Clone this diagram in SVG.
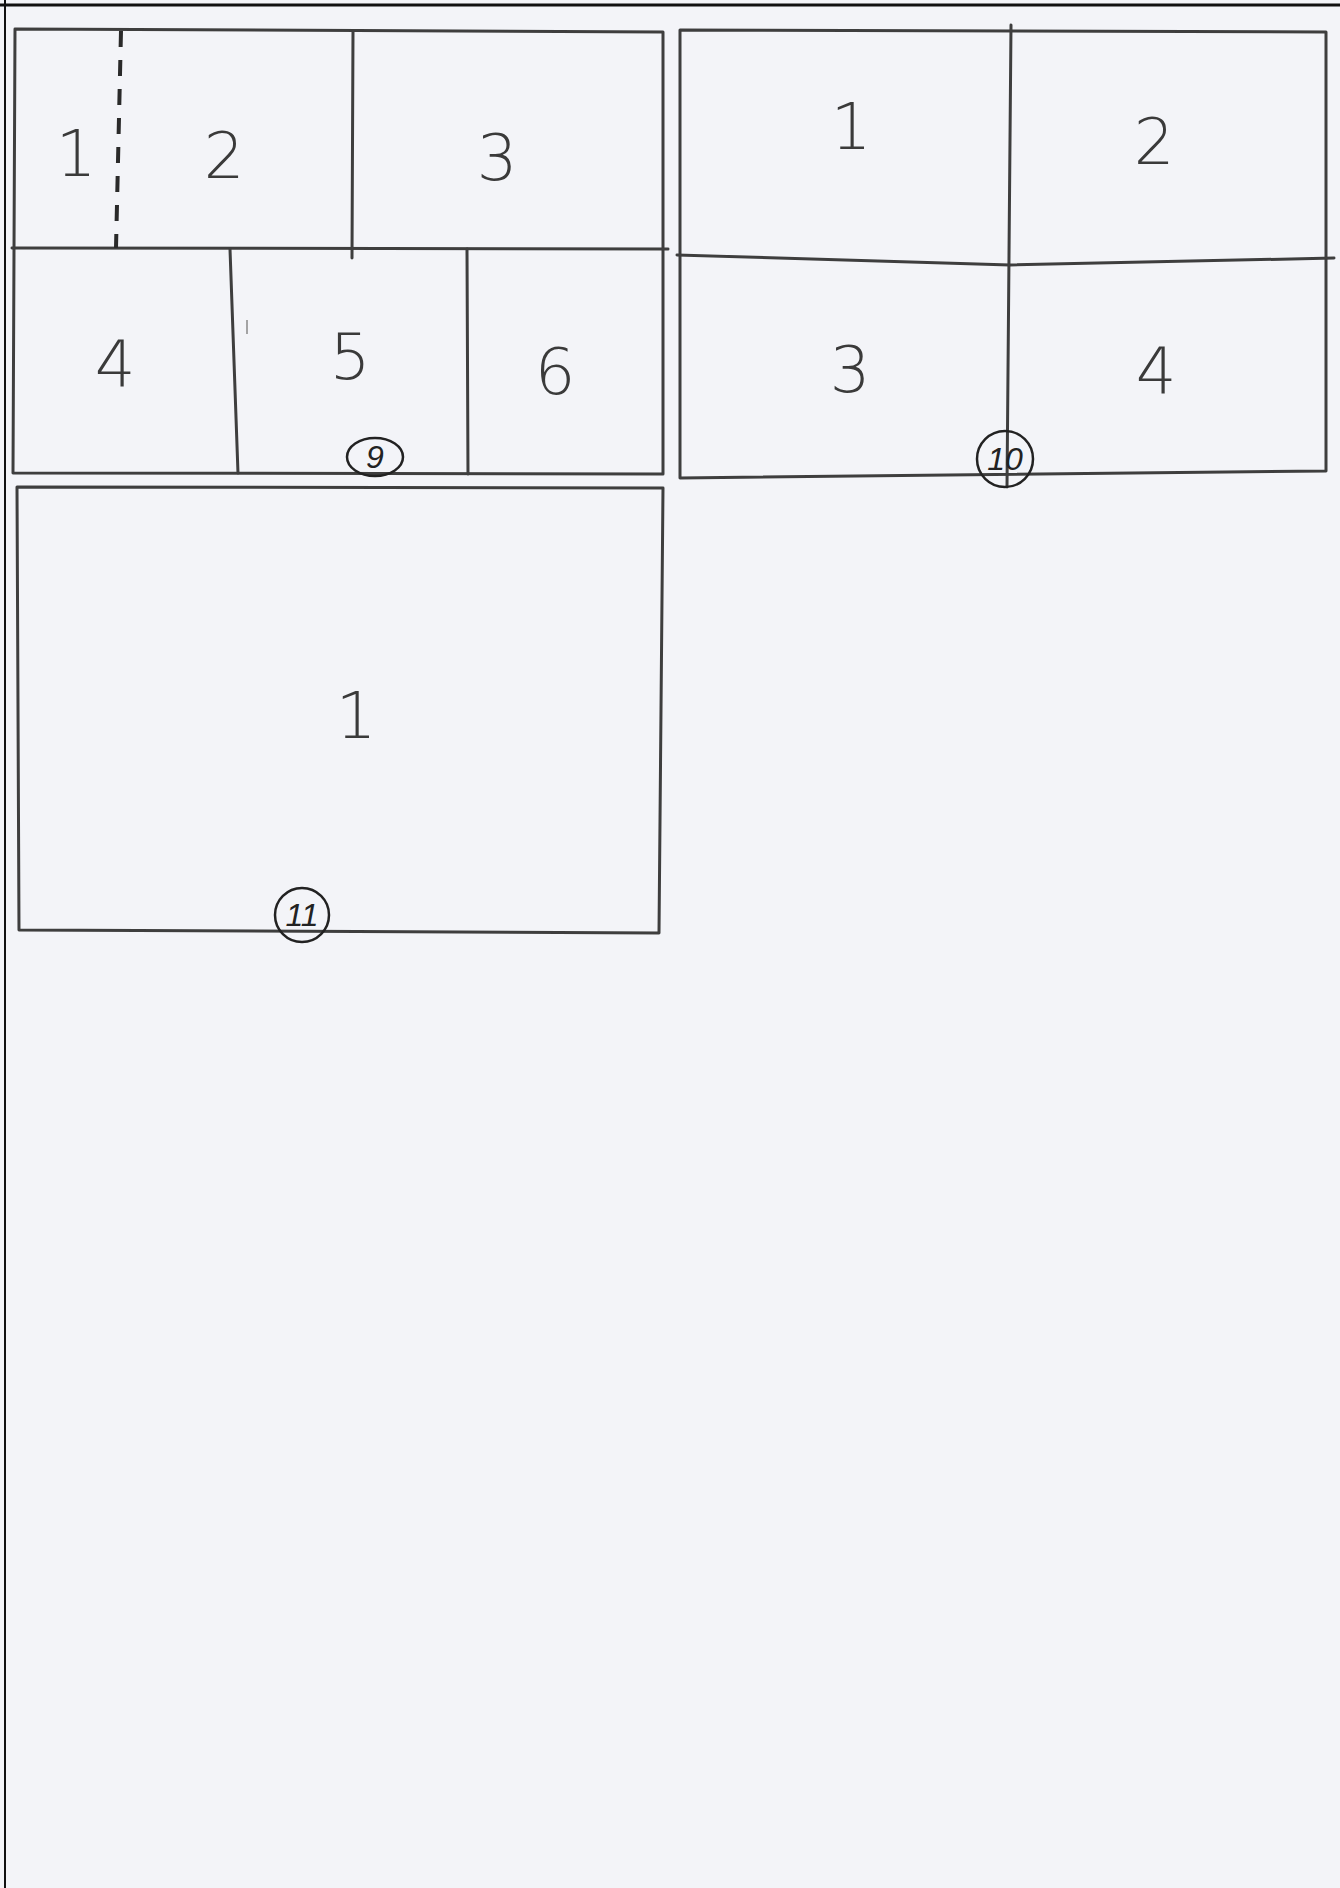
<svg xmlns="http://www.w3.org/2000/svg" width="1340" height="1888" viewBox="0 0 1340 1888">
<style>
.ln{fill:none;stroke:#3e3e3e;stroke-width:3;stroke-linecap:round;stroke-linejoin:round}
.dash{fill:none;stroke:#2a2a2a;stroke-width:4;stroke-dasharray:16 13}
.lbl{font-family:"DejaVu Sans","Liberation Sans",sans-serif;font-size:64px;font-weight:200;fill:#3a3a3a;text-anchor:middle}
.num{font-family:"Liberation Sans",sans-serif;font-size:32px;fill:#222;text-anchor:middle;font-style:italic}
.ring{fill:none;stroke:#222;stroke-width:2.5}
</style>
<rect width="1340" height="1888" fill="#f3f4f8"/>
<line x1="0" y1="5" x2="1340" y2="5" stroke="#111" stroke-width="3"/>
<line x1="5" y1="0" x2="5" y2="1888" stroke="#111" stroke-width="2"/>
<g id="page9">
<path class="ln" d="M15 29 L663 32 L663 474 L13 473 Z"/>
<path class="ln" d="M12 248 L668 249"/>
<path class="ln" d="M353 31 L352 258"/>
<path class="ln" d="M230 249 L238 473"/>
<path class="ln" d="M467 249 L468 474"/>
<path class="dash" d="M121 31 L116 248"/>
<path d="M247 320 L247 334" stroke="#888" stroke-width="1.5"/>
<text class="lbl" x="76" y="176">1</text>
<text class="lbl" x="224" y="178">2</text>
<text class="lbl" x="497" y="180">3</text>
<text class="lbl" x="115" y="386">4</text>
<text class="lbl" x="350" y="379">5</text>
<text class="lbl" x="555" y="394">6</text>
<ellipse class="ring" cx="375" cy="457" rx="28" ry="19"/>
<text class="num" x="375" y="468">9</text>
</g>
<g id="page10">
<path class="ln" d="M680 30 L1326 32 L1326 471 L680 478 Z"/>
<path class="ln" d="M677 255 L1010 265 L1334 258"/>
<path class="ln" d="M1011 25 L1007 487"/>
<text class="lbl" x="851" y="149">1</text>
<text class="lbl" x="1154" y="164">2</text>
<text class="lbl" x="850" y="392">3</text>
<text class="lbl" x="1156" y="393">4</text>
<circle class="ring" cx="1005" cy="459" r="28"/>
<text class="num" x="1005" y="470">10</text>
</g>
<g id="page11">
<path class="ln" d="M17 487 L663 488 L659 933 L19 930 Z"/>
<text class="lbl" x="356" y="738">1</text>
<ellipse class="ring" cx="302" cy="915" rx="27" ry="27"/>
<text class="num" x="302" y="926">11</text>
</g>
</svg>
